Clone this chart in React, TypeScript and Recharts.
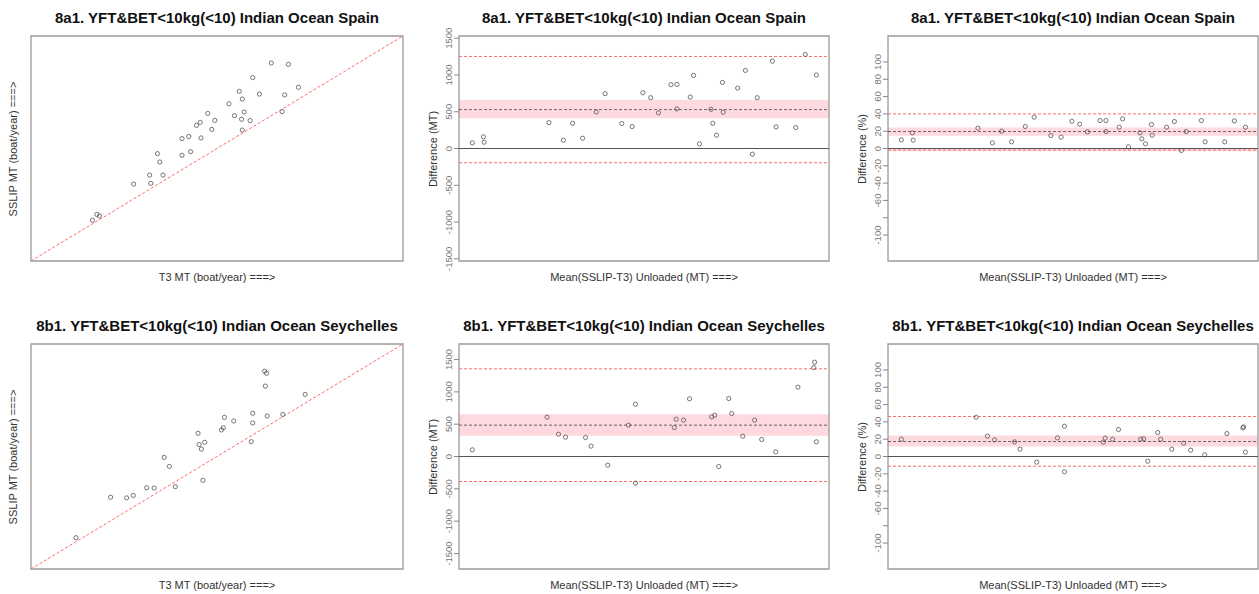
import React from "react";
import { ScatterChart, Scatter, XAxis, YAxis, ReferenceLine, ReferenceArea } from "recharts";

const FONT = '"Liberation Sans", Arial, sans-serif';

// 8a1 Spain: T3 vs SSLIP (relative units, identity line)
const spainT3 = [16.5, 17.7, 18.4, 27.6, 31.9, 32.2, 35.5, 34.6, 34.0, 40.6, 40.6, 42.4, 42.9, 44.5, 45.5, 45.7, 47.5, 48.6, 49.4, 53.2, 54.7, 56.0, 56.8, 57.3, 56.6, 56.8, 58.9, 59.6, 61.4, 64.6, 67.5, 68.2, 69.2, 71.9];
const spainSslip = [18.1, 20.7, 20.0, 34.2, 38.2, 34.5, 38.2, 44.0, 47.7, 54.4, 47.0, 55.3, 48.6, 60.3, 61.6, 54.7, 65.6, 58.5, 62.5, 69.9, 64.6, 75.4, 72.0, 66.2, 63.0, 58.2, 62.4, 81.5, 74.2, 88.0, 66.4, 73.8, 87.4, 77.2];

// 8a1 Spain: difference vs mean
const spainMean = [3.6, 6.6, 6.8, 24.3, 28.2, 30.7, 33.4, 37.1, 39.5, 44.0, 46.8, 49.7, 51.8, 53.9, 57.3, 58.9, 58.9, 62.5, 63.4, 65.0, 68.1, 68.6, 69.6, 71.2, 71.4, 75.3, 77.4, 79.3, 80.6, 84.7, 85.7, 91.0, 93.6, 96.6];
const spainDiffMt = [77, 158, 86, 352, 113, 343, 140, 497, 746, 339, 298, 759, 691, 484, 868, 872, 538, 700, 994, 63, 533, 343, 181, 899, 493, 822, 1062, -77, 691, 1188, 294, 285, 1279, 999];
const spainDiffPct = [10.0, 18.1, 9.6, 23.5, 6.5, 20.0, 7.7, 25.4, 36.2, 15.0, 13.1, 31.5, 28.1, 19.2, 32.3, 32.3, 19.6, 24.6, 34.2, 1.9, 18.1, 11.2, 5.4, 27.7, 15.4, 24.6, 31.2, -2.3, 19.6, 32.3, 7.7, 7.7, 31.9, 24.6];

// 8b1 Seychelles
const seyT3 = [12.1, 21.4, 25.7, 27.5, 31.1, 33.1, 35.8, 37.2, 38.8, 44.9, 45.2, 45.8, 46.7, 46.2, 51.2, 51.7, 52.0, 54.5, 59.2, 59.6, 59.6, 62.8, 63.3, 63.0, 63.5, 67.7, 73.7];
const seySslip = [13.9, 31.9, 31.6, 32.7, 36.1, 36.0, 49.6, 45.6, 36.6, 60.3, 55.3, 53.3, 56.3, 39.4, 61.8, 62.8, 67.4, 65.8, 56.6, 69.2, 64.9, 87.9, 87.0, 81.3, 68.0, 68.7, 77.6];
const seyMean = [3.6, 23.8, 26.9, 28.8, 34.2, 35.7, 40.2, 45.8, 47.7, 47.7, 58.2, 58.7, 60.7, 62.3, 68.3, 69.1, 70.2, 72.9, 73.7, 76.7, 79.9, 81.8, 85.6, 91.6, 95.9, 96.1, 96.6];
const seyDiffMt = [103, 608, 345, 299, 294, 160, -134, 485, 809, -412, 448, 577, 562, 892, 613, 639, -155, 897, 665, 314, 562, 263, 72, 1072, 1376, 1459, 227];
const seyDiffPct = [20.0, 45.4, 23.5, 19.2, 16.9, 8.5, -6.5, 21.5, 35.0, -17.7, 16.5, 21.2, 20.0, 31.2, 20.0, 20.4, -5.4, 27.7, 20.0, 8.5, 15.4, 7.3, 1.9, 26.5, 33.1, 34.2, 5.0];

// mean, CI low, CI high, upper limit, lower limit
const spainMtStats = [529, 411, 664, 1252, -194];
const spainPctStats = [19.6, 14.6, 24.2, 40, -1.9];
const seyMtStats = [485, 320, 655, 1356, -387];
const seyPctStats = [17.3, 11.5, 24.2, 46.2, -11.2];

const mtTicks = [-1500, -1000, -500, 0, 500, 1000, 1500];
const pctTicks = [-100, -80, -60, -40, -20, 0, 20, 40, 60, 80, 100];
const pctHiddenLabels = [-80];

const titleSpain = "8a1. YFT&BET<10kg(<10) Indian Ocean Spain";
const titleSey = "8b1. YFT&BET<10kg(<10) Indian Ocean Seychelles";
const xLabelCompare = "T3 MT (boat/year) ===>";
const yLabelCompare = "SSLIP MT (boat/year) ===>";
const xLabelDiff = "Mean(SSLIP-T3) Unloaded (MT) ===>";

const LIMIT_RED = "#ff6a6a";

const zip = (xs: number[], ys: number[]) => xs.map((x, i) => ({ x, y: ys[i] }));

const dot = (p: any) => <circle cx={p.cx} cy={p.cy} r={2.1} fill="none" stroke="#555" strokeWidth={0.8} />;

function Title({ cx, cy, text }: { cx: number; cy: number; text: string }) {
  return (
    <div style={{ position: "absolute", left: cx - 250, top: cy - 10, width: 500, height: 20, lineHeight: "20px", textAlign: "center", fontFamily: FONT, fontWeight: "bold", fontSize: 15, color: "#111", whiteSpace: "nowrap" }}>
      {text}
    </div>
  );
}

function XLabel({ cx, cy, text }: { cx: number; cy: number; text: string }) {
  return (
    <div style={{ position: "absolute", left: cx - 200, top: cy - 8, width: 400, height: 16, lineHeight: "16px", textAlign: "center", fontFamily: FONT, fontSize: 11, color: "#333", whiteSpace: "nowrap" }}>
      {text}
    </div>
  );
}

function YLabel({ cx, cy, text }: { cx: number; cy: number; text: string }) {
  return (
    <div style={{ position: "absolute", left: cx - 150, top: cy - 8, width: 300, height: 16, lineHeight: "16px", textAlign: "center", fontFamily: FONT, fontSize: 11, color: "#333", whiteSpace: "nowrap", transform: "rotate(-90deg)" }}>
      {text}
    </div>
  );
}

function makeTick(hidden: number[]) {
  return (props: any) => {
    const { x, y, payload } = props;
    if (hidden.includes(payload.value)) return <g />;
    const cx = x - 3.5;
    return (
      <text x={cx} y={y} dy="0.35em" textAnchor="middle" transform={`rotate(-90 ${cx} ${y})`} fontFamily={FONT} fontSize={9.5} fill="#777">
        {payload.value}
      </text>
    );
  };
}

interface CompareProps {
  left: number;
  top: number;
  title: string;
  xs: number[];
  ys: number[];
  plotTop: number;
}

function ComparePanel({ left, top, title, xs, ys, plotTop }: CompareProps) {
  const boxL = 31;
  const boxR = 403;
  const h = 225;
  return (
    <>
      <Title cx={left + (boxL + boxR) / 2} cy={top + plotTop - 18} text={title} />
      <div style={{ position: "absolute", left, top }}>
        <ScatterChart width={420} height={plotTop + h + 30} margin={{ left: boxL, right: 420 - boxR, top: plotTop, bottom: 30 }}>
          <XAxis type="number" dataKey="x" domain={[0, 100]} hide />
          <YAxis type="number" dataKey="y" domain={[0, 100]} hide />
          <ReferenceLine segment={[{ x: 0, y: 0 }, { x: 100, y: 100 }]} stroke={LIMIT_RED} strokeDasharray="3 2" strokeWidth={1} />
          <Scatter data={zip(xs, ys)} shape={dot} isAnimationActive={false} />
          <ReferenceArea x1={0} x2={100} y1={0} y2={100} fill="none" stroke="#9a9a9a" strokeWidth={1.3} />
        </ScatterChart>
      </div>
      <XLabel cx={left + (boxL + boxR) / 2} cy={top + plotTop + h + 16} text={xLabelCompare} />
      <YLabel cx={left + 13} cy={top + plotTop + h / 2} text={yLabelCompare} />
    </>
  );
}

interface DiffProps {
  left: number;
  top: number;
  title: string;
  xs: number[];
  ys: number[];
  stats: number[];
  yDomain: [number, number];
  ticks: number[];
  hidden: number[];
  yLabel: string;
  boxL: number;
  boxR: number;
  plotTop: number;
  lowBand?: [number, number];
}

function DiffPanel({ left, top, title, xs, ys, stats, yDomain, ticks, hidden, yLabel, boxL, boxR, plotTop, lowBand }: DiffProps) {
  const h = 225;
  const axisW = 30;
  const [mean, ciLow, ciHigh, upper, lower] = stats;
  return (
    <>
      <Title cx={left + (boxL + boxR) / 2} cy={top + plotTop - 18} text={title} />
      <div style={{ position: "absolute", left, top }}>
        <ScatterChart width={boxR + 2} height={plotTop + h + 30} margin={{ left: boxL - axisW, right: 2, top: plotTop, bottom: 30 }}>
          <XAxis type="number" dataKey="x" domain={[0, 100]} hide />
          <YAxis type="number" dataKey="y" domain={yDomain} ticks={ticks} width={axisW} axisLine={false} tickSize={5} tickLine={{ stroke: "#888" }} tick={makeTick(hidden)} interval={0} />
          <ReferenceArea y1={ciLow} y2={ciHigh} fill="#ffd9e0" fillOpacity={1} stroke="none" />
          {lowBand && <ReferenceArea y1={lowBand[0]} y2={lowBand[1]} fill="#ffdbe2" fillOpacity={1} stroke="none" />}
          <ReferenceLine y={0} stroke="#555" strokeWidth={1} />
          <ReferenceLine y={mean} stroke="#444" strokeDasharray="3 2" strokeWidth={0.8} />
          <ReferenceLine y={upper} stroke={LIMIT_RED} strokeDasharray="3 2" strokeWidth={1} />
          <ReferenceLine y={lower} stroke={LIMIT_RED} strokeDasharray="3 2" strokeWidth={1} />
          <Scatter data={zip(xs, ys)} shape={dot} isAnimationActive={false} />
          <ReferenceArea x1={0} x2={100} y1={yDomain[0]} y2={yDomain[1]} fill="none" stroke="#9a9a9a" strokeWidth={1.3} />
        </ScatterChart>
      </div>
      <XLabel cx={left + (boxL + boxR) / 2} cy={top + plotTop + h + 16} text={xLabelDiff} />
      <YLabel cx={left + boxL - 26} cy={top + plotTop + h / 2} text={yLabel} />
    </>
  );
}

export default function App() {
  return (
    <div style={{ position: "absolute", left: 0, top: 0, width: 1259, height: 594, background: "#fff", overflow: "hidden" }}>
      <ComparePanel left={0} top={0} title={titleSpain} xs={spainT3} ys={spainSslip} plotTop={36} />
      <DiffPanel left={420} top={0} title={titleSpain} xs={spainMean} ys={spainDiffMt} stats={spainMtStats} yDomain={[-1530, 1530]} ticks={mtTicks} hidden={[]} yLabel="Difference (MT)" boxL={39} boxR={409} plotTop={36} />
      <DiffPanel left={840} top={0} title={titleSpain} xs={spainMean} ys={spainDiffPct} stats={spainPctStats} yDomain={[-130, 130]} ticks={pctTicks} hidden={pctHiddenLabels} yLabel="Difference (%)" boxL={48} boxR={418} plotTop={36} lowBand={[-3.2, -0.6]} />
      <ComparePanel left={0} top={297} title={titleSey} xs={seyT3} ys={seySslip} plotTop={47} />
      <DiffPanel left={420} top={297} title={titleSey} xs={seyMean} ys={seyDiffMt} stats={seyMtStats} yDomain={[-1740, 1740]} ticks={mtTicks} hidden={[]} yLabel="Difference (MT)" boxL={39} boxR={409} plotTop={47} />
      <DiffPanel left={840} top={297} title={titleSey} xs={seyMean} ys={seyDiffPct} stats={seyPctStats} yDomain={[-130, 130]} ticks={pctTicks} hidden={pctHiddenLabels} yLabel="Difference (%)" boxL={48} boxR={418} plotTop={47} />
    </div>
  );
}
